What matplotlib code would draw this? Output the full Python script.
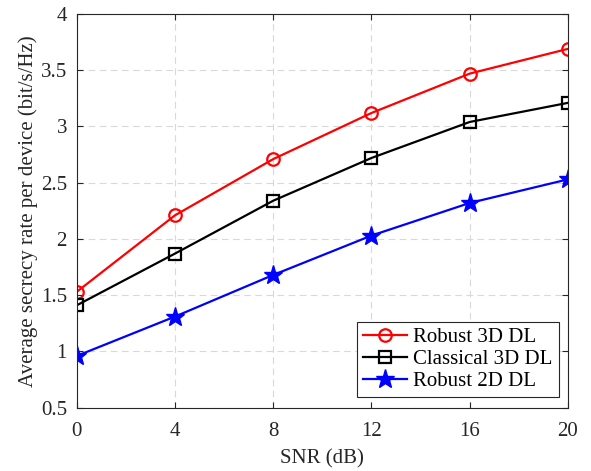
import matplotlib
matplotlib.use('Agg')
import matplotlib.pyplot as plt

plt.rcParams['font.family'] = ['Liberation Serif', 'DejaVu Serif']

snr = [0, 4, 8, 12, 16, 20]
robust_3d = [1.53, 2.21, 2.71, 3.12, 3.47, 3.69]
classical_3d = [1.41, 1.87, 2.34, 2.72, 3.04, 3.21]
robust_2d = [0.96, 1.31, 1.68, 2.03, 2.32, 2.53]

fs = 15
fig = plt.figure(figsize=(5.91, 4.71), dpi=100)
ax = fig.add_axes([0.1298, 0.1344, 0.8312, 0.8359])

ax.plot(snr, robust_3d, color='r', lw=1.6, marker='o', ms=9, mfc='none', mew=1.6,
        label='Robust 3D DL')
ax.plot(snr, classical_3d, color='k', lw=1.6, marker='s', ms=8, mfc='none', mew=1.6,
        label='Classical 3D DL')
ax.plot(snr, robust_2d, color='b', lw=1.6, marker='*', ms=14, mfc='b', mew=1.0,
        label='Robust 2D DL')

ax.set_xlim(0, 20)
ax.set_ylim(0.5, 4)
ax.set_xticks(snr)
ax.set_yticks([0.5, 1, 1.5, 2, 2.5, 3, 3.5, 4])
ax.set_yticklabels(['0.5', '1', '1.5', '2', '2.5', '3', '3.5', '4'])
ax.grid(True, ls=(0, (6, 4)), color='#d9d9d9', lw=0.8)
ax.tick_params(direction='in', top=True, right=True, labelsize=fs,
               color='#262626', labelcolor='#262626', length=4)
ax.tick_params(axis='x', pad=10)
ax.tick_params(axis='y', pad=7)
for s in ax.spines.values():
    s.set_color('#262626')
    s.set_linewidth(0.8)

ax.set_xlabel('SNR (dB)', fontsize=fs, color='#262626', labelpad=6)
ax.set_ylabel('Average secrecy rate per device (bit/s/Hz)', fontsize=fs,
              color='#262626', labelpad=2)

leg = ax.legend(loc='lower right', bbox_to_anchor=(0.9817, 0.027), fontsize=fs,
                fancybox=False, edgecolor='#262626', framealpha=1,
                handlelength=2.1, handletextpad=0.3, borderpad=0.3,
                labelspacing=0.1, borderaxespad=0)
leg.get_frame().set_linewidth(0.8)

fig.savefig('out.png', dpi=100)
